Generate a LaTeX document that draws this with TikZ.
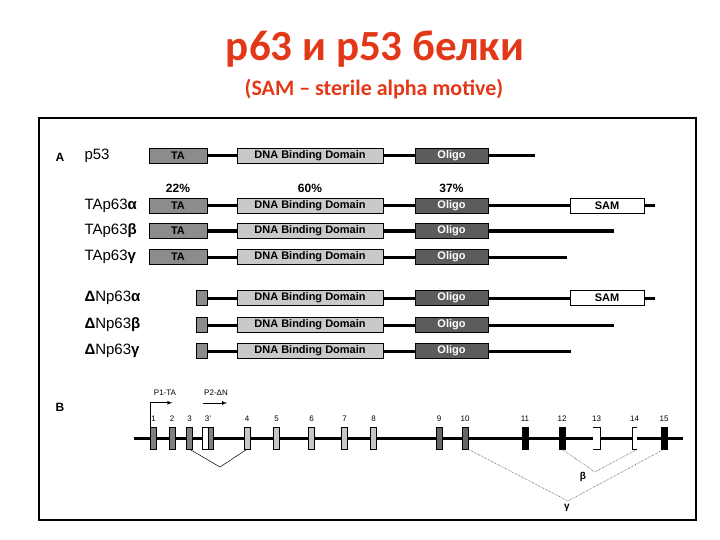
\documentclass[tikz,border=0pt]{standalone}
\usepackage{fontspec}
\setmainfont{Liberation Sans}
\newfontfamily\titlefont{Carlito}
\usetikzlibrary{positioning}

\definecolor{titlered}{RGB}{226,56,24}
\definecolor{tagrey}{gray}{0.55}
\definecolor{dbdgrey}{gray}{0.79}
\definecolor{oligogrey}{gray}{0.36}
\definecolor{exdark}{gray}{0.5}
\definecolor{exlight}{gray}{0.78}
\definecolor{exmid}{gray}{0.4}

\tikzset{
  dom/.style={draw, inner sep=0pt, minimum height=15pt, font=\fontsize{11}{11}\selectfont\bfseries},
  tabox/.style={dom, fill=tagrey, minimum width=58pt},
  stubbox/.style={dom, fill=tagrey, minimum width=11pt},
  dbdbox/.style={dom, fill=dbdgrey, minimum width=146pt},
  oligobox/.style={dom, fill=oligogrey, text=white, minimum width=73pt},
  sambox/.style={dom, fill=white, minimum width=74pt},
  chain/.style={line width=3pt},
  rowlab/.style={anchor=west, font=\fontsize{15}{15}\selectfont},
  pct/.style={font=\fontsize{12}{12}\selectfont\bfseries},
  exon/.style={draw, inner sep=0pt, minimum width=6pt, minimum height=22pt},
  numlab/.style={font=\fontsize{8}{8}\selectfont, label distance=2pt},
  splice/.style={line width=0.5pt},
  altsplice/.style={line width=0.6pt, densely dotted, black!70}
}

\begin{document}
\begin{tikzpicture}[x=1pt,y=-1pt]
    \useasboundingbox (0,0) rectangle (720,540);

    \node[font=\titlefont\fontsize{43}{43}\selectfont\bfseries, text=titlered] (title) at (375,49) {р63 и р53 белки};
    \node[font=\titlefont\fontsize{22}{22}\selectfont\bfseries, text=titlered] (subtitle) at (374,89) {(SAM – sterile alpha motive)};

    \draw[line width=1.2pt] (39,118) rectangle (696,520);

    % A
    \node[font=\fontsize{12}{12}\selectfont\bfseries] (labA) at (60,157) {A};
    \node[rowlab] (p53) at (81,155.5) {p53};
    \node[tabox] (ta0) at (178,155.5) {TA};
    \node[dbdbox] (dbd0) at (310,155.5) {DNA Binding Domain};
    \node[oligobox] (olig0) at (451.5,155.5) {Oligo};
    \coordinate (end0) at (535,155.5);
    \draw[chain] (ta0) -- (dbd0) (dbd0) -- (olig0) (olig0) -- (end0);

    \node[pct] (pctta) at (178,188) {22\%};
    \node[pct] (pctdbd) at (310,188) {60\%};
    \node[pct] (pctolig) at (451.5,188) {37\%};

    \foreach \i/\y/\g/\e in {1/205.5/α/655, 2/231/β/614, 3/257/γ/567}{
        \node[rowlab] (tal\i) at (81,\y) {TAp63\textbf{\g}};
        \node[tabox] (ta\i) at (178,\y) {TA};
        \node[dbdbox] (dbd\i) at (310,\y) {DNA Binding Domain};
        \node[oligobox] (olig\i) at (451.5,\y) {Oligo};
        \coordinate (end\i) at (\e,\y);
        \draw[chain] (ta\i) -- (dbd\i) (dbd\i) -- (olig\i) (olig\i) -- (end\i);
    }
    \node[sambox] (sam1) at (607,205.5) {SAM};

    \foreach \i/\y/\g/\e in {4/298/α/655, 5/325/β/614, 6/351/γ/571}{
        \node[rowlab] (dnl\i) at (81,\y) {\textbf{Δ}Np63\textbf{\g}};
        \node[stubbox] (stub\i) at (201.5,\y) {};
        \node[dbdbox] (dbd\i) at (310,\y) {DNA Binding Domain};
        \node[oligobox] (olig\i) at (451.5,\y) {Oligo};
        \coordinate (end\i) at (\e,\y);
        \draw[chain] (stub\i) -- (dbd\i) (dbd\i) -- (olig\i) (olig\i) -- (end\i);
    }
    \node[sambox] (sam4) at (607,298) {SAM};

    % B
    \node[font=\fontsize{12}{12}\selectfont\bfseries] (labB) at (60,407) {B};
    \coordinate (gl0) at (134,438);
    \coordinate (gl1) at (683,438);
    \draw[chain] (gl0) -- (gl1);

    \foreach \n/\x/\c in {1/153.5/exdark, 2/172/exdark, 3/189.5/exdark, 4/247/exlight, 5/276.5/exlight, 6/311.5/exlight, 7/344.5/exlight, 8/373.5/exlight, 9/439/exmid, 10/465/exmid, 11/525/black, 12/562/black, 15/664/black}
        \node[exon, fill=\c, label={[numlab]above:\n}] (e\n) at (\x,438) {};

    \node[exon, fill=white, draw=none, minimum width=12pt, label={[numlab]above:3'}] (e3p) at (208,438) {};
    \draw[fill=exdark] (e3p.north) rectangle ([xshift=5pt]e3p.south);
    \draw (e3p.north) -- (e3p.north west) -- (e3p.south west) -- (e3p.south);

    \node[exon, fill=white, draw=none, minimum width=7pt, label={[numlab]above:13}] (e13) at (596.5,438) {};
    \draw (e13.north west) -- (e13.north east) -- (e13.south east) -- (e13.south west);
    \node[exon, fill=white, draw=none, minimum width=5pt, label={[numlab]above:14}] (e14) at (634.5,438) {};
    \draw (e14.north east) -- (e14.north west) -- (e14.south west) -- (e14.south east);

    \draw[-latex, line width=0.7pt] (e1.north west) -- ++(0,-24) coordinate (p1) -- ++(22,0) coordinate (p1e);
    \node[font=\fontsize{8}{8}\selectfont] (p1lab) at (165,393) {P1-TA};
    \coordinate (p2s) at (203,403);
    \coordinate (p2e) at (227,403);
    \draw[-latex, line width=0.7pt] (p2s) -- (p2e);
    \node[font=\fontsize{8}{8}\selectfont] (p2lab) at (216,393) {P2-ΔN};

    \coordinate (v34) at (220,467);
    \draw[splice] (e3.south) -- (v34) -- (e4.south);

    \coordinate (vb) at (595,472);
    \coordinate (vg) at (568,501);
    \draw[altsplice] (e12.south) -- (vb) -- (e14.south east);
    \draw[altsplice] (e10.south east) -- (vg) -- (e15.south);
    \node[font=\fontsize{10}{10}\selectfont\bfseries] (beta) at (583,477) {β};
    \node[font=\fontsize{10}{10}\selectfont\bfseries] (gamma) at (567,508) {γ};
\end{tikzpicture}
\end{document}
